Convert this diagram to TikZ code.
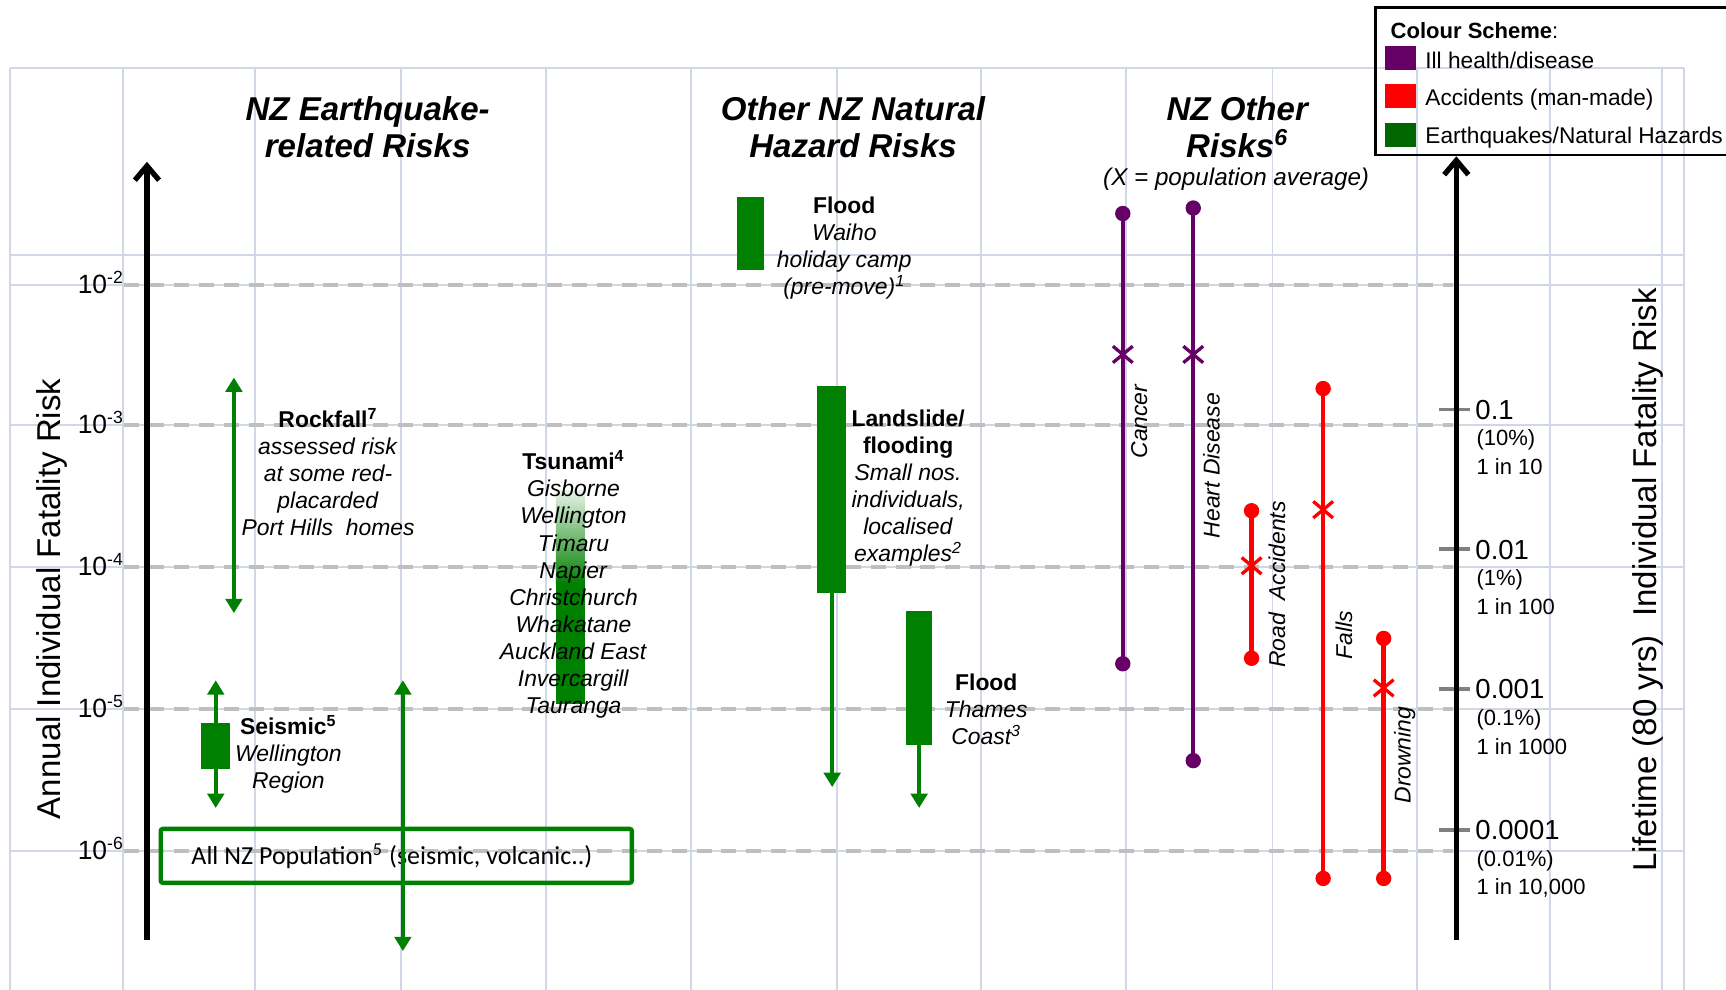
\documentclass[tikz,border=0pt]{standalone}
\usepackage{fontspec}
\setmainfont{Liberation Sans}
\newfontfamily\calibrifont{Carlito}
\usetikzlibrary{arrows.meta}

\definecolor{gridc}{RGB}{208,216,229}
\definecolor{dashc}{RGB}{191,191,191}
\definecolor{hazgreen}{RGB}{0,128,0}
\definecolor{keygreen}{RGB}{0,102,0}
\definecolor{illpurple}{RGB}{102,0,102}
\definecolor{accred}{RGB}{255,0,0}
\definecolor{tickgrey}{RGB}{128,128,128}

\tikzset{
  gridline/.style={draw=gridc,line width=0.9pt},
  levelline/.style={draw=dashc,line width=1.8pt,dash pattern=on 6.8pt off 4.5pt},
  axisarrow/.style={draw=black,line width=2.4pt,-{Straight Barb[length=6.5pt,width=11pt]}},
  gtip/.tip={Triangle[length=6.5pt,width=7.5pt]},
  hazbar/.style={fill=hazgreen,draw=none},
  hazdown/.style={draw=hazgreen,line width=1.6pt,-gtip},
  hazboth/.style={draw=hazgreen,line width=1.6pt,gtip-gtip},
  heading/.style={font=\fontsize{15}{16.5}\selectfont\bfseries\itshape,align=center,inner sep=0pt},
  note/.style={font=\fontsize{10.4}{12.3}\selectfont,align=center,inner sep=0pt},
  sidenote/.style={font=\fontsize{10.4}{12.3}\selectfont\itshape,rotate=90,inner sep=0pt},
  powlabel/.style={font=\fontsize{12}{14}\selectfont,anchor=base east,inner sep=0pt},
  ticklab/.style={font=\fontsize{12.5}{14}\selectfont,anchor=base west,inner sep=0pt},
  subtick/.style={font=\fontsize{10}{12}\selectfont,anchor=base west,inner sep=0pt},
  tickmark/.style={draw=tickgrey,line width=1.7pt},
  axtitle/.style={font=\fontsize{15}{18}\selectfont,rotate=90,inner sep=0pt},
  riskline/.style={line width=2pt},
  keytext/.style={font=\fontsize{10.3}{12}\selectfont,anchor=base west,inner sep=0pt},
  xmk/.pic={\draw[line width=1.5pt] (-9,-7.5) -- (9,7.5) (-9,7.5) -- (9,-7.5);},
}

\begin{document}
\begin{tikzpicture}[x=0.5pt,y=-0.5pt]
\useasboundingbox (0,0) rectangle (1568,899);

% light background grid
\foreach \gx in {9,112,232,364,496,628,760,891,1023,1156,1287,1408,1510,1530}
  \draw[gridline] (\gx,62) -- (\gx,910);
\foreach \gy in {62,232,259,386,515,644,773}
  \draw[gridline] (9,\gy) -- (1530,\gy);

% decade levels
\foreach \gy in {259,386,515,644,773}
  \draw[levelline] (113,\gy) -- (1320,\gy);

% left axis: annual risk
\foreach \ex/\gy in {2/259,3/386,4/515,5/644,6/773}
  \node[powlabel] (pow\ex) at (113,\gy+7.5) {10\textsuperscript{-\ex}};
\coordinate (laxbot) at (133.5,854);
\coordinate (laxtop) at (133.5,147);
\draw[axisarrow] (laxbot) -- (laxtop);
\node[axtitle] (ylab) at (47.5,544) {Annual Individual Fatality Risk};

% right axis: lifetime risk
\draw[tickmark] (1307,372) -- (1335,372);
\draw[tickmark] (1307,499) -- (1335,499);
\draw[tickmark] (1307,626) -- (1335,626);
\draw[tickmark] (1307,754) -- (1335,754);
\coordinate (raxbot) at (1323,854);
\coordinate (raxtop) at (1323,142);
\draw[axisarrow] (raxbot) -- (raxtop);
\node[ticklab] (t1) at (1340,381) {0.1};
\node[subtick] (t1p) at (1341,405) {(10\%)};
\node[subtick] (t1n) at (1341,431) {1 in 10};
\node[ticklab] (t2) at (1340,508) {0.01};
\node[subtick] (t2p) at (1341,532) {(1\%)};
\node[subtick] (t2n) at (1341,558) {1 in 100};
\node[ticklab] (t3) at (1340,635) {0.001};
\node[subtick] (t3p) at (1341,659) {(0.1\%)};
\node[subtick] (t3n) at (1341,685) {1 in 1000};
\node[ticklab] (t4) at (1340,763) {0.0001};
\node[subtick] (t4p) at (1341,787) {(0.01\%)};
\node[subtick] (t4n) at (1341,813) {1 in 10,000};
\node[axtitle] (y2lab) at (1497,527) {Lifetime (80 yrs)~ Individual Fatality Risk};

% section headings
\node[heading] (eqtitle) at (334,115.5) {NZ Earthquake-\\related Risks};
\node[heading] (nattitle) at (775,115.5) {Other NZ Natural\\Hazard Risks};
\node[heading] (othtitle) at (1124,115.5) {NZ Other\\Risks\textsuperscript{6}};
\node[font=\fontsize{11}{13}\selectfont\itshape,inner sep=0pt] (othsub) at (1123,163) {(X = population average)};

% earthquake-related risks
\coordinate (rockhi) at (212.5,343);
\coordinate (rocklo) at (212.5,557);
\draw[hazboth] (rocklo) -- (rockhi);
\node[note] (rocktxt) at (298,429) {\textbf{Rockfall\textsuperscript{7}}\\\textit{assessed risk}\\\textit{at some red-}\\\textit{placarded}\\\textit{Port Hills~ homes}};

\shade[top color=hazgreen!10,bottom color=hazgreen] (505,446) rectangle (531,530);
\fill[hazgreen] (505,529.5) rectangle (531,640);
\node[note] (tsutxt) at (521,531) {\textbf{Tsunami\textsuperscript{4}}\\\textit{Gisborne}\\\textit{Wellington}\\\textit{Timaru}\\\textit{Napier}\\\textit{Christchurch}\\\textit{Whakatane}\\\textit{Auckland East}\\\textit{Invercargill}\\\textit{Tauranga}};

\coordinate (seishi) at (196,618);
\coordinate (seislo) at (196,734);
\draw[hazboth] (seislo) -- (seishi);
\fill[hazbar] (182.5,657) rectangle (209,698.5);
\node[note] (seistxt) at (262,685.5) {\textbf{Seismic\textsuperscript{5}}\\\textit{Wellington}\\\textit{Region}};

\node[draw=hazgreen,line width=2pt,rounded corners=1pt,minimum width=214pt,minimum height=24.5pt,
      inner sep=0pt] (allnz) at (360,777.5) {};
\node[font=\calibrifont\fontsize{11.8}{13}\selectfont,inner sep=0pt] (allnztxt) at (356,778)
      {All NZ Population\textsuperscript{5} (seismic, volcanic..)};
\coordinate (allhi) at (366,618);
\coordinate (alllo) at (366,864);
\draw[hazboth] (alllo) -- (allhi);

% other natural hazards
\fill[hazbar] (669.5,179) rectangle (694,245);
\node[note] (waihotxt) at (767,225.5) {\textbf{Flood}\\\textit{Waiho}\\\textit{holiday camp}\\\textit{(pre-move)\textsuperscript{1}}};

\coordinate (slidetop) at (756,539);
\coordinate (slidelo) at (756,715);
\draw[hazdown] (slidetop) -- (slidelo);
\fill[hazbar] (742,351) rectangle (768.5,539);
\node[note] (slidetxt) at (825,443.5) {\textbf{Landslide/}\\\textbf{flooding}\\\textit{Small nos.}\\\textit{individuals,}\\\textit{localised}\\\textit{examples\textsuperscript{2}}};

\coordinate (thamestop) at (835,677);
\coordinate (thameslo) at (835,734);
\draw[hazdown] (thamestop) -- (thameslo);
\fill[hazbar] (823,555) rectangle (847,677);
\node[note] (thamestxt) at (896,644) {\textbf{Flood}\\\textit{Thames}\\\textit{Coast\textsuperscript{3}}};

% other NZ risks: range with population average
\foreach \rk/\cx/\ytop/\ybot/\yavg/\col in {
    cancer/1020/194/603/322/illpurple,
    heart/1084/189/691/322/illpurple,
    road/1137/464/598/514/accred,
    falls/1202/353/798/463/accred,
    drown/1257/580/798/625/accred}{
  \coordinate (\rk-top) at (\cx,\ytop);
  \coordinate (\rk-bot) at (\cx,\ybot);
  \coordinate (\rk-avg) at (\cx,\yavg);
  \draw[riskline,\col] (\rk-top) -- (\rk-bot);
  \fill[\col] (\rk-top) circle[radius=3.5pt] (\rk-bot) circle[radius=3.5pt];
  \pic[\col] at (\rk-avg) {xmk};
}
\node[sidenote] (cancerlab) at (1035,383) {Cancer};
\node[sidenote] (heartlab) at (1100.5,423) {Heart Disease};
\node[sidenote] (roadlab) at (1160,531) {Road~ Accidents};
\node[sidenote] (fallslab) at (1221,577) {Falls};
\node[sidenote] (drownlab) at (1276,686) {Drowning};

% colour key
\draw[line width=1.2pt] (1249.5,6.7) rectangle (1580,140.8);
\node[keytext,font=\fontsize{10}{12}\selectfont] (keyhead) at (1263,34.8) {\textbf{Colour Scheme}:};
\fill[illpurple] (1258.5,41.8) rectangle (1286,63.6);
\fill[accred] (1258.5,76.6) rectangle (1286,97.8);
\fill[keygreen] (1258.5,111.4) rectangle (1286,133.2);
\node[keytext] (keyill) at (1294.5,62) {Ill health/disease};
\node[keytext] (keyacc) at (1294.5,95.4) {Accidents (man-made)};
\node[keytext] (keynat) at (1294.5,130) {Earthquakes/Natural Hazards};
\end{tikzpicture}
\end{document}
